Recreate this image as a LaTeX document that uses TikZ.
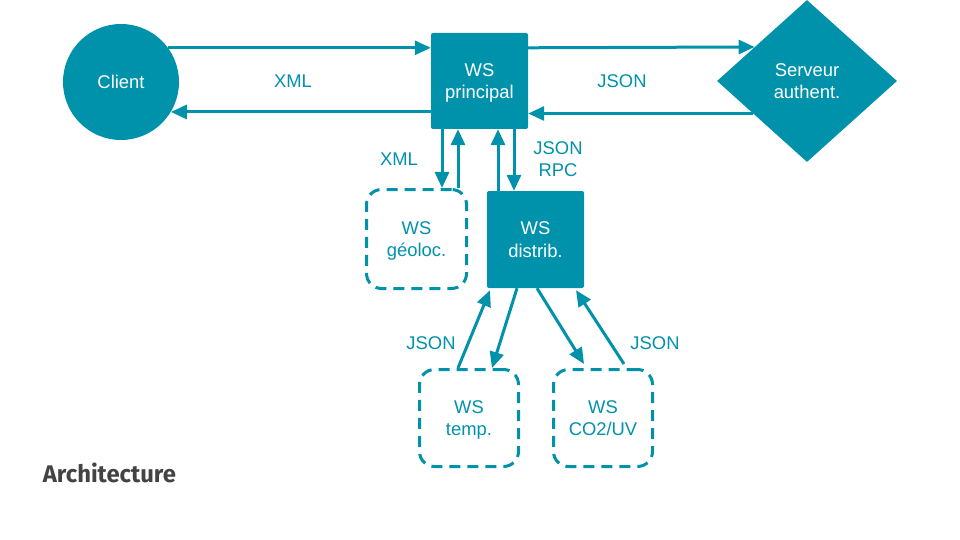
\documentclass[tikz,border=0pt]{standalone}
\usepackage{fontspec}
\usepackage{graphicx}
\setmainfont{Liberation Sans}
\newfontfamily\titlefont{Fira Sans}
\usetikzlibrary{arrows.meta,shapes.geometric}
\definecolor{teal}{HTML}{0092AB}
\definecolor{titlegray}{HTML}{434343}
\tikzset{
  x=1pt,y=-1pt,
  every node/.style={font=\fontsize{18.4}{22.6}\selectfont, align=center, text depth=0pt},
  filledbox/.style={fill=teal, text=white, rounded corners=2pt, inner sep=0pt},
  dashbox/.style={draw=teal, line width=3pt, dash pattern=on 11pt off 7pt, rounded corners=15pt, text=teal, inner sep=0pt},
  arr/.style={draw=teal, line width=3pt, -{Triangle[length=16pt,width=14pt]}},
  lbl/.style={text=teal, inner sep=0pt}
}
\begin{document}
\begin{tikzpicture}
\useasboundingbox (0,0) rectangle (960,540);
\fill[white] (0,0) rectangle (960,540);

\node[circle, fill=teal, text=white, minimum size=116pt, inner sep=0pt] (client) at (121,82) {Client};
\node[filledbox, minimum width=97pt, minimum height=96pt] (principal) at (479.5,81) {WS\\principal};
\node[diamond, fill=teal, text=white, minimum width=180pt, minimum height=162pt, inner sep=0pt] (auth) at (807,81) {Serveur\\authent.};

\node[dashbox, minimum width=100pt, minimum height=99pt] (geoloc) at (416.5,239) {WS\\géoloc.};
\node[filledbox, minimum width=97pt, minimum height=97pt] (distrib) at (535.5,239.5) {WS\\distrib.};
\node[dashbox, minimum width=99pt, minimum height=97pt] (temp) at (469,418) {WS\\temp.};
\node[dashbox, minimum width=99pt, minimum height=97pt] (co2) at (603,418) {WS\\CO2/UV};

% labels
\node[lbl] (l1) at (293,81) {XML};
\node[lbl] (l2) at (622,81) {JSON};
\node[lbl] (l3) at (399,159) {XML};
\node[lbl] (l4) at (558,159) {JSON\\RPC};
\node[lbl] (l5) at (431,343) {JSON};
\node[lbl] (l6) at (655,343) {JSON};

% top row
\draw[arr] (client.36) -- (client.36 -| principal.west);
\draw[arr] (principal.west |- client.-31) -- (client.-31);
\draw[arr] (principal.east |- client.36) -- (auth.147);
\draw[arr] (auth.211) -- (auth.211 -| principal.east);

% principal <-> geoloc / distrib
\draw[arr] ([xshift=-37.5pt]principal.south) -- ([xshift=-37.5pt]principal.south |- geoloc.north);
\draw[arr] ([xshift=-21.5pt]principal.south |- geoloc.north) -- ([xshift=-21.5pt]principal.south);
\draw[arr] ([xshift=18.5pt]principal.south |- distrib.north) -- ([xshift=18.5pt]principal.south);
\draw[arr] ([xshift=34.5pt]principal.south) -- ([xshift=34.5pt]principal.south |- distrib.north);

% distrib <-> temp / co2
\draw[arr] ([xshift=-11pt]temp.north) -- ([xshift=-45.5pt,yshift=-2pt]distrib.south);
\draw[arr] ([xshift=-18.5pt]distrib.south) -- ([xshift=23pt]temp.north);
\draw[arr] ([xshift=1.5pt]distrib.south) -- ([xshift=-19pt,yshift=4pt]co2.north);
\draw[arr] ([xshift=21pt,yshift=4pt]co2.north) -- ([xshift=40.5pt,yshift=-2pt]distrib.south);

\node[anchor=base west, inner sep=0pt, text=titlegray] (title) at (42.7,482) {\resizebox{133pt}{19.5pt}{\titlefont\bfseries Architecture}};
\end{tikzpicture}
\end{document}
